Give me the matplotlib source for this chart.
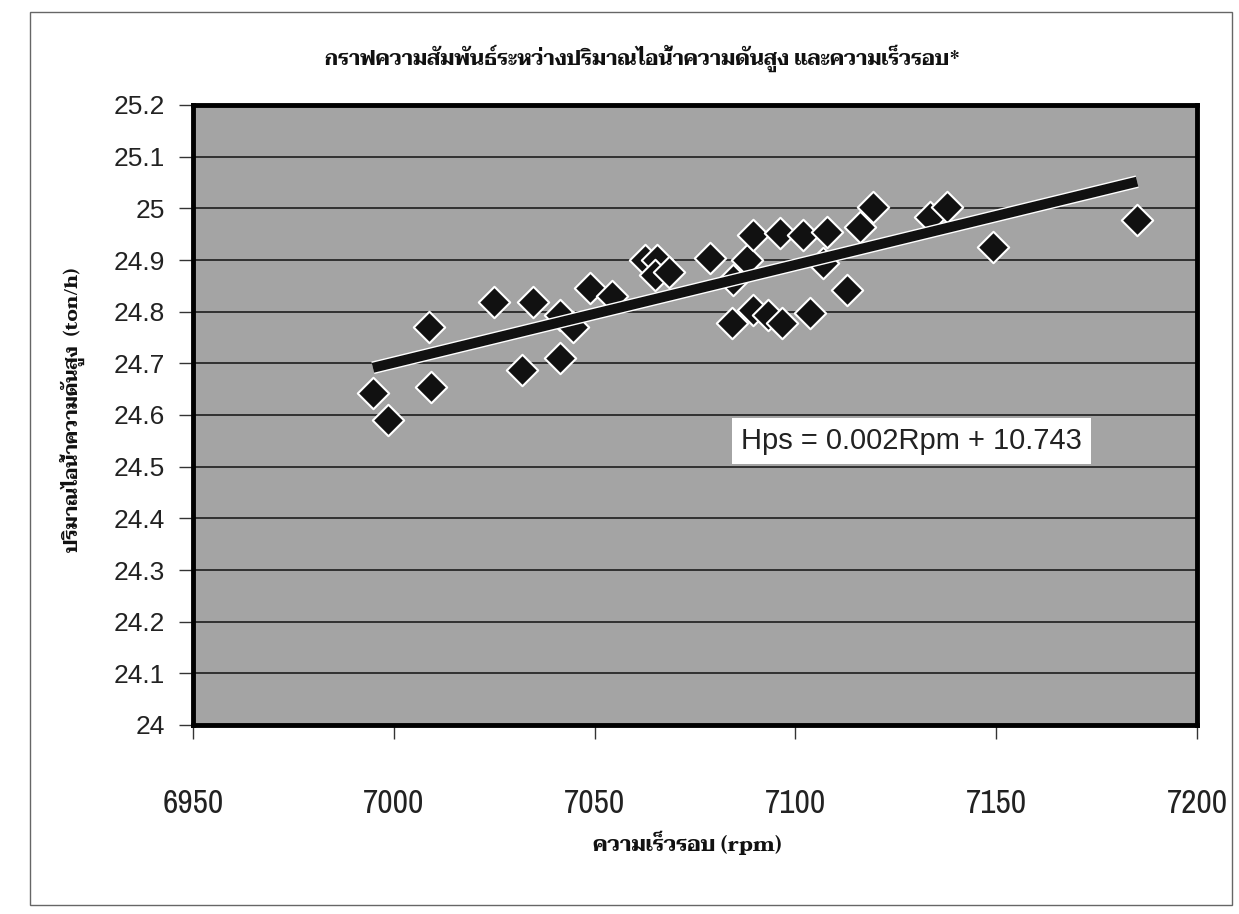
import matplotlib
matplotlib.use("Agg")
import matplotlib.pyplot as plt
import matplotlib.patheffects as pe
from matplotlib.patches import Rectangle
import numpy as np

# ---- data ----
rpm = [6994.8, 6998.6, 7008.8, 7009.3, 7025.0, 7034.7, 7031.9, 7041.4, 7041.4,
       7044.6, 7048.9, 7054.3, 7062.5, 7065.5, 7065.0, 7068.5, 7078.7, 7084.5,
       7087.9, 7089.4, 7096.2, 7101.9, 7107.9, 7106.9, 7116.1, 7119.3, 7112.8,
       7084.2, 7089.4, 7093.2, 7096.7, 7103.6, 7133.5, 7137.7, 7149.2, 7185.1]
hps = [24.643, 24.590, 24.770, 24.654, 24.819, 24.819, 24.687, 24.710, 24.794,
       24.770, 24.846, 24.830, 24.900, 24.900, 24.871, 24.877, 24.904, 24.861,
       24.900, 24.948, 24.952, 24.948, 24.954, 24.894, 24.964, 25.002, 24.842,
       24.778, 24.803, 24.794, 24.778, 24.797, 24.983, 25.002, 24.925, 24.977]

x_ticks = [6950, 7000, 7050, 7100, 7150, 7200]
y_ticks = [24.0, 24.1, 24.2, 24.3, 24.4, 24.5, 24.6, 24.7, 24.8, 24.9, 25.0, 25.1, 25.2]
y_ticklabels = ["24", "24.1", "24.2", "24.3", "24.4", "24.5", "24.6", "24.7",
                "24.8", "24.9", "25", "25.1", "25.2"]

title = "กราฟความสัมพันธ์ระหว่างปริมาณไอน้ำความดันสูง และความเร็วรอบ*"
xlabel = "ความเร็วรอบ (rpm)"
ylabel = "ปริมาณไอน้ำความดันสูง  (ton/h)"
equation = "Hps = 0.002Rpm + 10.743"

THAI = ["Taviraj", "Trirong", "Noto Serif Thai", "DejaVu Sans"]
SANS = ["Liberation Sans", "Arimo", "DejaVu Sans"]
NARROW = ["Liberation Sans Narrow", "Archivo Narrow", "Liberation Sans", "DejaVu Sans"]

fig = plt.figure(figsize=(12.39, 9.14), dpi=100)
fig.patch.set_facecolor("white")

# chart-area border
fig.add_artist(Rectangle((30 / 1239, 1 - 905 / 914), 1202 / 1239, 893 / 914,
                         transform=fig.transFigure, fill=False,
                         edgecolor="#666666", linewidth=1.0))

ax = fig.add_axes([193 / 1239, 1 - 725 / 914, 1004 / 1239, 620 / 914])
ax.set_facecolor("#a4a4a4")
ax.set_xlim(6950, 7200)
ax.set_ylim(24.0, 25.2)

ax.set_yticks(y_ticks)
ax.set_yticklabels(y_ticklabels, family=SANS, fontsize=19)
ax.set_xticks(x_ticks)
ax.set_xticklabels([str(v) for v in x_ticks], family=NARROW, fontsize=24)
ax.tick_params(axis="y", direction="out", length=10, width=1, pad=10, colors="#333333")
ax.tick_params(axis="x", direction="out", length=10, width=1, pad=36, colors="#333333")
for lab in ax.get_yticklabels() + ax.get_xticklabels():
    lab.set_color("#222222")

ax.grid(axis="y", color="#111111", linewidth=1.1)
ax.grid(axis="x", visible=False)
ax.set_axisbelow(True)
for s in ax.spines.values():
    s.set_linewidth(3.5)
    s.set_color("black")

# scatter points
ax.scatter(rpm, hps, marker="D", s=16 ** 2, color="#111111",
           edgecolors="white", linewidths=1.5, zorder=3)

# linear trend line fitted to the data
coef = np.polyfit(rpm, hps, 1)
xt = np.array([min(rpm), max(rpm)])
ax.plot(xt, np.polyval(coef, xt), color="#111111", linewidth=7.2,
        solid_capstyle="butt", zorder=4,
        path_effects=[pe.Stroke(linewidth=9.2, foreground="white"), pe.Normal()])

# equation box
ax.text(0.7155, 0.458, equation, transform=ax.transAxes, ha="center", va="center",
        family=SANS, fontsize=21, color="#222222", zorder=5,
        bbox=dict(boxstyle="square,pad=0.3", facecolor="white", edgecolor="none"))

fig.text(643 / 1239, 1 - 58 / 914, title, ha="center", va="center",
         family=THAI, fontweight="bold", fontsize=14.6, color="#111111")
fig.text(687 / 1239, 1 - 843 / 914, xlabel, ha="center", va="center",
         family=THAI, fontweight="bold", fontsize=15, color="#111111")
fig.text(72 / 1239, 1 - 410 / 914, ylabel, ha="center", va="center", rotation=90,
         family=THAI, fontweight="bold", fontsize=13.6, color="#111111")

fig.savefig("out.png", dpi=100)
